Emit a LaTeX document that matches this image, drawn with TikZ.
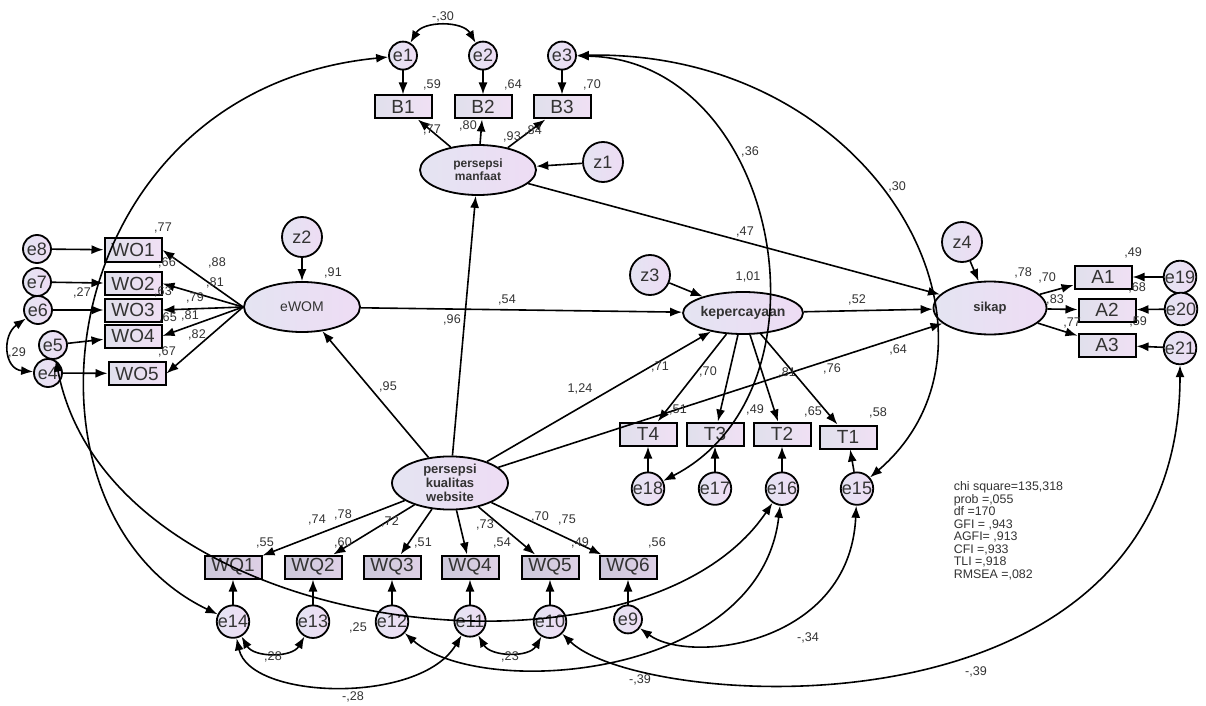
\documentclass[tikz,border=0pt]{standalone}
\usepackage{fontspec}
\setmainfont{Liberation Sans}
\usepackage{tikz}
\usetikzlibrary{positioning}
\usetikzlibrary{shapes}
\usetikzlibrary{arrows.meta}
\definecolor{boxl}{RGB}{224,224,236}
\definecolor{boxr}{RGB}{240,224,244}
\definecolor{boxdl}{RGB}{204,200,218}
\definecolor{boxdr}{RGB}{222,208,230}
\definecolor{latl}{RGB}{228,228,242}
\definecolor{latr}{RGB}{238,220,244}
\definecolor{txt}{RGB}{51,51,51}

\begin{document}
\begin{tikzpicture}[x=0.5pt, y=0.5pt, line width=0.8pt, >={Latex[length=6pt, width=4.5pt]},
		obs/.style={draw, line width=1pt, rectangle, inner sep=0pt, minimum width=28.5pt, minimum height=11.5pt, left color=boxl, right color=boxr, text=txt, font=\fontsize{9.5}{9.5}\selectfont},
		obsd/.style={obs, left color=boxdl, right color=boxdr},
		err/.style={draw, line width=0.9pt, circle, inner sep=0pt, minimum size=14pt, left color=latl, right color=latr, text=txt, font=\fontsize{9}{9}\selectfont},
		dist/.style={err, minimum size=20pt, font=\fontsize{9}{9}\selectfont},
		lat/.style={draw, line width=0.9pt, ellipse, inner sep=0pt, minimum width=58pt, minimum height=25pt, left color=latl, right color=latr, align=center, text=txt, font=\bfseries\fontsize{6.5}{7}\selectfont},
		lbl/.style={inner sep=0pt, text=txt, font=\fontsize{6.3}{6.3}\selectfont},
		arr/.style={draw, ->},
		cov/.style={draw, <->}]
	\fill[white] (0,0) rectangle (1206,-706);
	\useasboundingbox (0,0) rectangle (1206,-706);
	
	% latent variables
	\node[lat, font=\bfseries\fontsize{6}{6.5}\selectfont] (pm) at (478,-170) {persepsi\\manfaat};
	\node[lat, font=\fontsize{7}{7}\selectfont] (ewom) at (302,-307) {eWOM};
	\node[lat, minimum height=21pt, font=\bfseries\fontsize{7}{7}\selectfont] (kep) at (743,-313) {kepercayaan};
	\node[lat, minimum width=56.5pt, minimum height=26.5pt] (sikap) at (990,-308) {sikap};
	\node[lat] (pkw) at (450,-483) {persepsi\\kualitas\\website};
	
	\node[dist] (z1) at (603,-162) {z1};
	\node[dist] (z2) at (302,-237) {z2};
	\node[dist] (z3) at (650,-275) {z3};
	\node[dist] (z4) at (962,-242) {z4};
	
	% persepsi manfaat
	\node[obs] (b1) at (403,-107) {B1};
	\node[obs] (b2) at (483,-107) {B2};
	\node[obs] (b3) at (562,-107) {B3};
	\node[err, above=12pt of b1] (e1) {e1};
	\node[err, above=12pt of b2] (e2) {e2};
	\node[err, above=12pt of b3] (e3) {e3};
	
	% eWOM
	\node[obs] (wo1) at (133,-250) {WO1};
	\node[obs] (wo2) at (133,-283.5) {WO2};
	\node[obs] (wo3) at (133,-310) {WO3};
	\node[obs] (wo4) at (133,-336) {WO4};
	\node[obs] (wo5) at (137,-373.5) {WO5};
	\node[err] (e8) at (37,-249) {e8};
	\node[err] (e7) at (37,-282) {e7};
	\node[err] (e6) at (38,-310) {e6};
	\node[err] (e5) at (53,-345) {e5};
	\node[err] (e4) at (48,-373) {e4};
	
	% kepercayaan
	\node[obs] (t4) at (648,-434) {T4};
	\node[obs] (t3) at (715,-434) {T3};
	\node[obs] (t2) at (782,-434) {T2};
	\node[obs] (t1) at (848,-437) {T1};
	\node[err, below=12.5pt of t4] (e18) {e18};
	\node[err, below=12.5pt of t3] (e17) {e17};
	\node[err, below=12.5pt of t2] (e16) {e16};
	\node[err, below=11pt of t1, xshift=4.5pt] (e15) {e15};
	
	% sikap
	\node[obs] (a1) at (1103,-277) {A1};
	\node[obs] (a2) at (1107,-310) {A2};
	\node[obs] (a3) at (1107,-345) {A3};
	\node[err] (e19) at (1180,-277) {e19};
	\node[err] (e20) at (1181,-309) {e20};
	\node[err] (e21) at (1180,-348) {e21};
	
	% persepsi kualitas website
	\node[obsd] (wq1) at (233,-567) {WQ1};
	\node[obsd] (wq2) at (313,-567) {WQ2};
	\node[obsd] (wq3) at (392,-567) {WQ3};
	\node[obsd] (wq4) at (470,-567) {WQ4};
	\node[obsd] (wq5) at (550,-567) {WQ5};
	\node[obsd] (wq6) at (628,-567) {WQ6};
	\node[err, below=12.5pt of wq1] (e14) {e14};
	\node[err, below=12.5pt of wq2] (e13) {e13};
	\node[err, below=12.5pt of wq3] (e12) {e12};
	\node[err, below=12.5pt of wq4] (e11) {e11};
	\node[err, below=12.5pt of wq5] (e10) {e10};
	\node[err, below=12.5pt of wq6] (e9) {e9};
	
	% regression paths
	\draw[arr] (e1) -- (b1);
	\draw[arr] (e2) -- (b2);
	\draw[arr] (e3) -- (b3);
	\draw[arr] (pm) -- (b1);
	\draw[arr] (pm) -- (b2);
	\draw[arr] (pm) -- (b3);
	\draw[arr] (z1) -- (pm);
	\draw[arr] (z2) -- (ewom);
	\draw[arr] (z3) -- (kep);
	\draw[arr] (z4) -- (sikap);
	\draw[arr] (ewom.west) -- (wo1.east);
	\draw[arr] (ewom.west) -- (wo2.east);
	\draw[arr] (ewom.west) -- (wo3.east);
	\draw[arr] (ewom.west) -- (wo4.east);
	\draw[arr] (ewom.west) -- (wo5.east);
	\draw[arr] (e8) -- (wo1);
	\draw[arr] (e7) -- (wo2);
	\draw[arr] (e6) -- (wo3);
	\draw[arr] (e5) -- (wo4);
	\draw[arr] (e4) -- (wo5);
	\draw[arr] (pkw) -- (ewom);
	\draw[arr] (pkw) -- (pm);
	\draw[arr] (pkw) -- (kep);
	\draw[arr] (pkw) -- (sikap);
	\draw[arr] (ewom) -- (kep);
	\draw[arr] (pm) -- (sikap);
	\draw[arr] (kep) -- (sikap);
	\draw[arr] (kep) -- (t4);
	\draw[arr] (kep) -- (t3);
	\draw[arr] (kep) -- (t2);
	\draw[arr] (kep) -- (t1);
	\draw[arr] (e18) -- (t4);
	\draw[arr] (e17) -- (t3);
	\draw[arr] (e16) -- (t2);
	\draw[arr] (e15) -- (t1);
	\draw[arr] (sikap) -- (a1);
	\draw[arr] (sikap) -- (a2);
	\draw[arr] (sikap) -- (a3);
	\draw[arr] (e19) -- (a1);
	\draw[arr] (e20) -- (a2);
	\draw[arr] (e21) -- (a3);
	\draw[arr] (pkw) -- (wq1);
	\draw[arr] (pkw) -- (wq2);
	\draw[arr] (pkw) -- (wq3);
	\draw[arr] (pkw) -- (wq4);
	\draw[arr] (pkw) -- (wq5);
	\draw[arr] (pkw) -- (wq6);
	\draw[arr] (e14) -- (wq1);
	\draw[arr] (e13) -- (wq2);
	\draw[arr] (e12) -- (wq3);
	\draw[arr] (e11) -- (wq4);
	\draw[arr] (e10) -- (wq5);
	\draw[arr] (e9) -- (wq6);
	
	% covariances
	\draw[cov] (e1) to[out=60, in=120] (e2);
	\draw[cov] (e6) to[out=215, in=175, looseness=1.4] (e4);
	\draw[cov] (e14) to[out=-60, in=-120] (e13);
	\draw[cov] (e11) to[out=-60, in=-120] (e10);
	\draw[cov] (e14) .. controls (250,-700) and (420,-705) .. (e11);
	\draw[cov] (e1) .. controls (50,-90) and (0,-510) .. (e14);
	\draw[cov] (e5) .. controls (110,-640) and (640,-700) .. (e16);
	\draw[cov] (e3) .. controls (780,-60) and (840,-390) .. (e18);
	\draw[cov] (e3) .. controls (880,-50) and (1030,-340) .. (e15);
	\draw[cov] (e9) .. controls (690,-665) and (850,-645) .. (e15);
	\draw[cov] (e12) .. controls (480,-700) and (760,-680) .. (e16);
	\draw[cov] (e10) .. controls (640,-710) and (1180,-750) .. (e21);
	
	% estimates
	\foreach \lx/\ly/\lt [count=\i] in {443/17/{-,30}, 432/85/{,59}, 513/85/{,64}, 592/85/{,70},
			432/130/{,77}, 468/126/{,80}, 512/137/{,93}, 533/131/{,84},
			163/228/{,77}, 167/263/{,66}, 217/263/{,88}, 333/273/{,91}, 82/293/{,27}, 163/292/{,63},
			215/283/{,81}, 195/298/{,79}, 168/318/{,65}, 190/316/{,81}, 197/335/{,82}, 17/353/{,29}, 167/352/{,67},
			507/300/{,54}, 452/320/{,96}, 388/387/{,95}, 580/389/{1,24}, 745/232/{,47},
			748/277/{1,01}, 857/300/{,52}, 660/367/{,71}, 708/372/{,70}, 787/373/{,81}, 832/369/{,76}, 898/350/{,64},
			678/410/{,51}, 755/410/{,49}, 813/412/{,65}, 878/413/{,58},
			1023/273/{,78}, 1047/278/{,70}, 1055/300/{,83}, 1072/323/{,77}, 1133/253/{,49}, 1137/288/{,68}, 1138/322/{,59},
			750/152/{,36}, 897/187/{,30},
			317/520/{,74}, 343/515/{,78}, 390/522/{,72}, 485/525/{,73}, 540/517/{,70}, 567/520/{,75},
			265/543/{,55}, 343/543/{,60}, 423/543/{,51}, 502/543/{,54}, 580/543/{,49}, 657/543/{,56},
			358/628/{,25}, 273/657/{,28}, 353/697/{-,28}, 510/657/{,23}, 640/680/{-,39}, 808/638/{-,34}, 976/672/{-,39}}
		\node[lbl] (l\i) at (\lx,-\ly) {\lt};
	
	\node[lbl, align=left, anchor=north west, font=\fontsize{6.2}{6.25}\selectfont] (fit) at (953,-481) {chi square=135,318\\prob =,055\\df =170\\GFI = ,943\\AGFI= ,913\\CFI =,933\\TLI =,918\\RMSEA =,082};
\end{tikzpicture}
\end{document}
